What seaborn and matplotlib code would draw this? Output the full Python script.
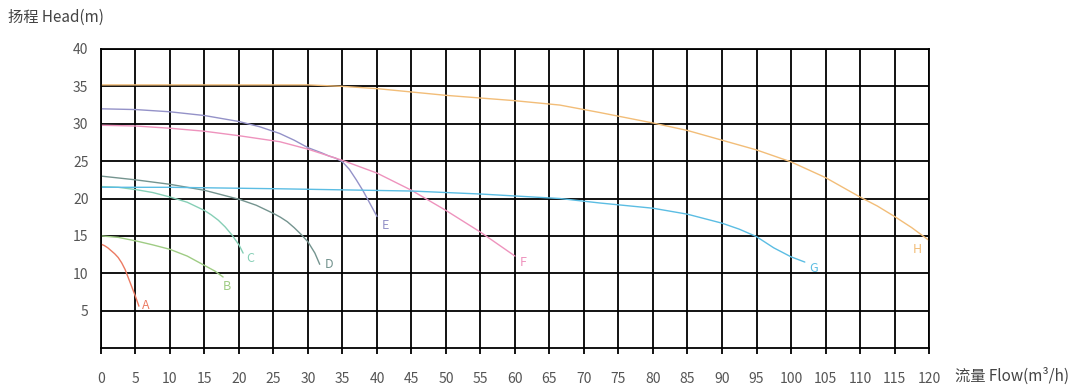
import matplotlib
matplotlib.use("Agg")
import matplotlib.pyplot as plt
import numpy as np
import pandas as pd
import seaborn as sns

# pump curves: flow (m3/h) vs head (m)
flow_a = [0, 0.5, 1, 1.5, 2, 2.5, 3, 3.5, 4, 4.5, 5, 5.5]
head_a = [13.9, 13.7, 13.4, 13.0, 12.6, 12.1, 11.4, 10.5, 9.3, 8.1, 6.9, 5.6]

flow_b = [0, 2.5, 5.2, 7.5, 10, 12.5, 14.9, 16.5, 17.7]
head_b = [15.0, 14.8, 14.3, 13.8, 13.2, 12.3, 11.1, 10.3, 9.5]

flow_c = [0, 2.5, 5, 7.5, 10, 12.5, 15, 16, 17, 18, 19, 20, 20.6]
head_c = [21.6, 21.5, 21.2, 20.8, 20.2, 19.5, 18.4, 17.8, 17.1, 16.2, 15.1, 13.8, 12.7]

flow_d = [0, 5, 10, 15, 20, 22.5, 25, 26, 27, 28, 29, 30, 31, 31.7]
head_d = [23.0, 22.5, 21.9, 21.1, 19.9, 19.1, 18.0, 17.5, 16.9, 16.1, 15.2, 14.2, 12.7, 11.2]

flow_e = [0, 5, 10, 15, 20, 23, 25.9, 28, 30, 32, 33, 34, 35, 36, 37, 38, 39, 40]
head_e = [32.0, 31.9, 31.6, 31.1, 30.3, 29.6, 28.7, 27.8, 26.8, 26.1, 25.7, 25.4,
          24.9, 23.9, 22.5, 21.0, 19.3, 17.6]

flow_f = [0, 5, 10, 15, 20, 25.9, 30, 35, 40, 45, 50, 55, 60]
head_f = [29.8, 29.7, 29.4, 29.0, 28.4, 27.6, 26.6, 25.1, 23.4, 21.1, 18.4, 15.5, 12.3]

flow_g = [0, 10, 25.9, 45, 55, 66.5, 72.3, 80, 85, 90, 92.5, 95, 97.5, 100, 102]
head_g = [21.5, 21.5, 21.3, 21.0, 20.6, 20.0, 19.4, 18.7, 17.9, 16.7, 15.9, 14.9, 13.4, 12.2, 11.5]

flow_h = [0, 10, 20, 30, 35, 40, 50, 59.8, 66.5, 72.3, 80, 85, 90, 95, 100, 105,
          110, 112.5, 115, 117.5, 120]
head_h = [35.2, 35.2, 35.2, 35.2, 35.0, 34.7, 33.8, 33.1, 32.5, 31.5, 30.1, 29.1,
          27.8, 26.5, 24.9, 22.8, 20.2, 19.0, 17.6, 16.1, 14.4]

curve_names = ["A", "B", "C", "D", "E", "F", "G", "H"]
curve_colors = ["#ec7a62", "#9fcc84", "#86cfb6", "#74948f",
                "#9492c8", "#ee93bd", "#5bbde3", "#f2bd78"]
label_x = [6.5, 18.3, 21.7, 33.0, 41.2, 61.2, 103.3, 118.3]
label_y = [5.7, 8.2, 12.0, 11.2, 16.4, 11.5, 10.7, 13.2]

flows = [flow_a, flow_b, flow_c, flow_d, flow_e, flow_f, flow_g, flow_h]
heads = [head_a, head_b, head_c, head_d, head_e, head_f, head_g, head_h]

frames = []
for name, q, h in zip(curve_names, flows, heads):
    frames.append(pd.DataFrame({"flow": q, "head": h, "curve": name}))
df = pd.concat(frames, ignore_index=True)

sns.set_theme(style="white")
plt.rcParams["font.family"] = ["Noto Sans CJK SC", "DejaVu Sans"]

fig = plt.figure(figsize=(10.81, 3.92), dpi=100)
ax = fig.add_axes([0.0934, 0.1122, 0.766, 0.7628])

sns.lineplot(
    data=df, x="flow", y="head", hue="curve",
    palette=dict(zip(curve_names, curve_colors)),
    sort=False, linewidth=1.0, legend=False, ax=ax,
)

for name, color, lx, ly in zip(curve_names, curve_colors, label_x, label_y):
    ax.text(lx, ly, name, color=color, fontsize=9, ha="center", va="center")

ax.set_xlim(0, 120)
ax.set_ylim(0, 40)
ax.set_xticks(np.arange(0, 121, 5))
ax.set_yticks(np.arange(5, 41, 5))
ax.grid(True, color="black", linewidth=1.3)
for s in ax.spines.values():
    s.set_color("black")
    s.set_linewidth(1.3)

ax.tick_params(axis="x", which="both", bottom=True, length=4, width=1.3,
               color="black", pad=13, labelsize=10, labelcolor="#555555")
ax.tick_params(axis="y", left=False, length=0, pad=9, labelsize=10,
               labelcolor="#555555")
ax.set_xlabel("")
ax.set_ylabel("")

fig.text(0.007, 0.955, "扬程 Head(m)", fontsize=11, color="#444444",
         ha="left", va="center")
fig.text(0.883, 0.04, "流量 Flow(m³/h)", fontsize=11, color="#444444",
         ha="left", va="center")

fig.savefig("out.png", dpi=100)
